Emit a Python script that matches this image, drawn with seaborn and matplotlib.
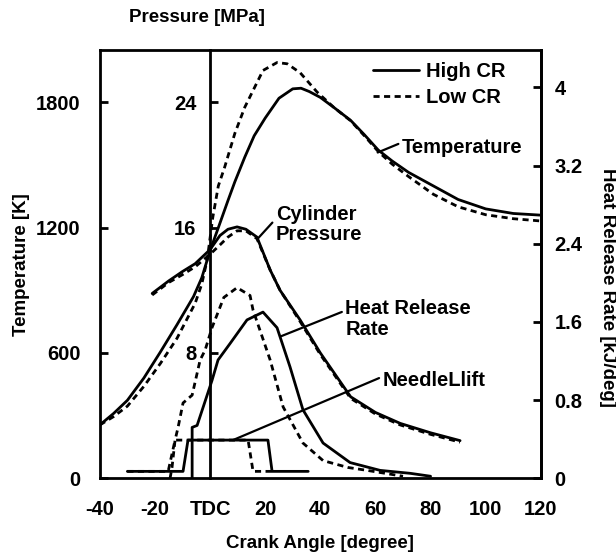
import pandas as pd
import matplotlib
matplotlib.use("Agg")
import matplotlib.pyplot as plt
import seaborn as sns

# -----------------------------
# Data
# -----------------------------
temp_angle_high = [-40, -35, -30, -24, -18, -12, -6, -3, 0, 3, 6.5, 9, 12.6, 16, 20, 25,
                   30, 33, 36, 40, 45, 51, 56, 61, 66, 72, 81, 90, 100, 110, 120]
temp_high = [255, 310, 373, 480, 605, 735, 870, 960, 1090, 1200, 1330, 1420, 1538, 1640,
             1725, 1820, 1865, 1868, 1852, 1824, 1775, 1714, 1645, 1572, 1520, 1465, 1400,
             1335, 1290, 1268, 1260]

temp_angle_low = [-40, -35, -30, -24, -18, -12, -5.4, -3, -1, 1, 3, 5.3, 9, 12.6, 15.6,
                  19.2, 24.3, 28, 32.7, 38.8, 45, 51, 56, 61, 66, 72, 81, 90, 100, 110, 120]
temp_low = [255, 295, 345, 440, 550, 670, 838, 930, 1050, 1250, 1400, 1490, 1652, 1777,
            1857, 1953, 1991, 1985, 1942, 1850, 1775, 1712, 1640, 1565, 1505, 1445, 1360,
            1300, 1262, 1243, 1232]

pres_angle_high = [-21, -15, -10, -5.4, 0, 3.6, 6.5, 9.8, 13, 17, 21.8, 25.4, 32.7, 40,
                   51, 60, 69, 80, 90.7]
pres_high = [11.8, 12.6, 13.2, 13.7, 14.6, 15.5, 15.9, 16.05, 15.9, 15.4, 13.3, 12.0, 10.1,
             8.0, 5.2, 4.2, 3.5, 2.9, 2.4]

pres_angle_low = [-21, -15, -10, -5.4, 0, 3.6, 6.5, 9.8, 13, 17, 21.8, 25.4, 32.7, 40,
                  51, 60, 69, 80, 90.7]
pres_low = [11.7, 12.5, 13.0, 13.5, 14.3, 14.9, 15.4, 15.8, 15.8, 15.3, 13.3, 12.0, 10.0,
            7.9, 5.1, 4.1, 3.4, 2.8, 2.3]

hrr_angle_high = [-6.5, -6.5, -4.7, 0.7, 2.9, 7.3, 13.4, 19.2, 24.3, 29, 33.7, 41, 50.8,
                  61.7, 72.6, 80]
hrr_high = [0, 0.52, 0.54, 1.0, 1.21, 1.38, 1.62, 1.70, 1.54, 1.14, 0.70, 0.36, 0.16,
            0.08, 0.05, 0.02]

hrr_angle_low = [-14.5, -13.8, -12.7, -11.6, -9.8, -6.5, -3.6, -1.8, 0.7, 5, 9.8, 14.5,
                 15.6, 21.8, 26.5, 33.7, 41, 50, 57, 70]
hrr_low = [0, 0.11, 0.39, 0.52, 0.77, 0.85, 1.21, 1.31, 1.54, 1.85, 1.95, 1.87, 1.72,
           1.21, 0.73, 0.36, 0.18, 0.11, 0.08, 0.02]

needle_angle_high = [-30, -9.8, -8, 21, 22.5, 35.6]
needle_high = [0.07, 0.07, 0.39, 0.39, 0.07, 0.07]

needle_angle_low = [-30, -15.2, -12.7, 13.8, 15.6, 22.5]
needle_low = [0.07, 0.07, 0.39, 0.39, 0.07, 0.07]

x_ticks = [-40, -20, 0, 20, 40, 60, 80, 100, 120]
x_tick_labels = ["-40", "-20", "TDC", "20", "40", "60", "80", "100", "120"]
temp_ticks = [0, 600, 1200, 1800]
pres_ticks = [8, 16, 24]
hrr_ticks = [0, 0.8, 1.6, 2.4, 3.2, 4]
hrr_tick_labels = ["0", "0.8", "1.6", "2.4", "3.2", "4"]

# -----------------------------
# Style
# -----------------------------
sns.set_style("white")
plt.rcParams["font.family"] = ["Liberation Sans", "DejaVu Sans"]
plt.rcParams.update({
    "font.weight": "bold",
    "axes.labelweight": "bold",
    "text.color": "black",
    "axes.labelcolor": "black",
    "xtick.color": "black",
    "ytick.color": "black",
    "axes.edgecolor": "black",
})

LW = 2.0
DASH = (0, (2.2, 1.6))
FS = 14.5    # ticks and curve labels
FS_AX = 13.5  # axis titles

fig = plt.figure(figsize=(6.16, 5.58), dpi=100)
ax = fig.add_axes([0.162, 0.143, 0.716, 0.767])
pax = ax.twinx()
hax = ax.twinx()


def draw(axis, xs, ys, ls):
    df = pd.DataFrame({"angle": xs, "value": ys})
    sns.lineplot(data=df, x="angle", y="value", ax=axis, color="k", lw=LW,
                 linestyle=ls, estimator=None, sort=False, legend=False)


# temperature (left axis)
draw(ax, temp_angle_high, temp_high, "-")
draw(ax, temp_angle_low, temp_low, DASH)
h_line, l_line = ax.get_lines()[0], ax.get_lines()[1]

# cylinder pressure (axis on the TDC line)
draw(pax, pres_angle_high, pres_high, "-")
draw(pax, pres_angle_low, pres_low, DASH)

# heat release rate and needle lift (right axis)
draw(hax, hrr_angle_high, hrr_high, "-")
draw(hax, hrr_angle_low, hrr_low, DASH)
draw(hax, needle_angle_high, needle_high, "-")
draw(hax, needle_angle_low, needle_low, DASH)

# -----------------------------
# Axes
# -----------------------------
ax.set_xlim(-40, 120)
ax.set_ylim(0, 2050)
pax.set_ylim(0, 2050 / 75)
hax.set_ylim(0, 4.38)

ax.set_xticks(x_ticks)
ax.set_xticklabels(x_tick_labels)
ax.set_yticks(temp_ticks)
pax.set_yticks(pres_ticks)
hax.set_yticks(hrr_ticks)
hax.set_yticklabels(hrr_tick_labels)

for s in ax.spines.values():
    s.set_linewidth(2.0)
    s.set_color("k")
for s in ["top", "bottom", "right"]:
    pax.spines[s].set_visible(False)
pax.spines["left"].set_visible(True)
pax.spines["left"].set_position(("data", 0))
pax.spines["left"].set_linewidth(2.0)
pax.spines["left"].set_color("k")
pax.yaxis.set_ticks_position("left")
for s in ["top", "bottom", "left"]:
    hax.spines[s].set_visible(False)
hax.spines["right"].set_linewidth(2.0)
hax.spines["right"].set_color("k")

ax.tick_params(axis="x", direction="in", length=4, width=1.2, pad=16, labelsize=FS)
ax.tick_params(axis="y", direction="in", length=6, width=2, pad=14, labelsize=FS)
pax.tick_params(axis="y", direction="in", length=6, width=2, pad=10, labelsize=FS,
                left=True, right=False, labelleft=True, labelright=False)
hax.tick_params(axis="y", direction="in", length=6, width=2, pad=10, labelsize=FS)

ax.set_xlabel("Crank Angle [degree]", fontsize=FS_AX, labelpad=11)
ax.set_ylabel("Temperature [K]", fontsize=FS_AX, labelpad=4)
pax.set_ylabel("")
hax.set_ylabel("Heat Release Rate [kJ/deg]", fontsize=FS_AX, rotation=270,
               va="center", ha="center")
hax.yaxis.set_label_coords(1.152, 0.446)
ax.text(0.22, 1.077, "Pressure [MPa]", transform=ax.transAxes, ha="center",
        va="center", fontsize=FS_AX, fontweight="bold")

# -----------------------------
# Labels with leader lines
# -----------------------------
lead = dict(arrowstyle="-", lw=1.6, color="k", shrinkA=0, shrinkB=0)
ax.annotate("Temperature", xy=(60.8, 1560), xytext=(69.5, 1585), fontsize=FS,
            ha="left", va="center", arrowprops=dict(lead, relpos=(0, 0.75)))
pax.annotate("Cylinder\nPressure", xy=(17.3, 15.3), xytext=(23.8, 16.2), fontsize=FS,
             ha="left", va="center", linespacing=1.1,
             arrowprops=dict(lead, relpos=(0, 0.64)))
hax.annotate("Heat Release\nRate", xy=(25.5, 1.45), xytext=(49, 1.63), fontsize=FS,
             ha="left", va="center", linespacing=1.1,
             arrowprops=dict(lead, relpos=(0, 0.71)))
hax.annotate("NeedleLlift", xy=(8.3, 0.39), xytext=(62.5, 1.0), fontsize=FS,
             ha="left", va="center", arrowprops=dict(lead, relpos=(0, 0.7)))

leg = hax.legend([h_line, l_line], ["High CR", "Low CR"], loc="upper left",
                 bbox_to_anchor=(0.591, 1.0), frameon=False, fontsize=FS,
                 handlelength=2.3, handletextpad=0.35, labelspacing=0.35,
                 borderaxespad=0.2)

fig.savefig("out.png", dpi=100, facecolor="white")
